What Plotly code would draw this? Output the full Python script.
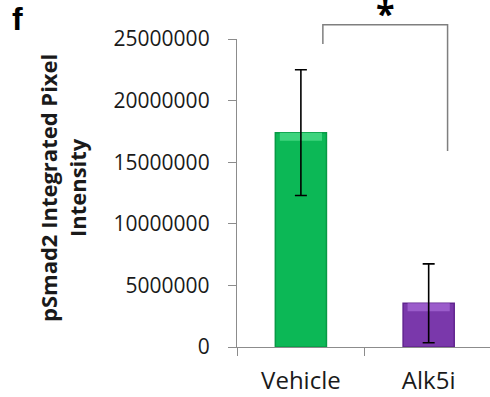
import plotly.graph_objects as go

# Data
categories = ["Vehicle", "Alk5i"]
means = [17400000, 3550000]
errors = [5100000, 3200000]
tick_vals = [0, 5000000, 10000000, 15000000, 20000000, 25000000]
tick_text = [str(v) for v in tick_vals]

# significance bracket (category-axis units, data units)
bracket_x = [0.172, 0.172, 1.148, 1.148]
bracket_y = [24600000, 26150000, 26150000, 15900000]
star_y = 27150000

bar_colors = ["#0cb856", "#7a38ab"]
edge_colors = ["#079a45", "#61248f"]
top_colors = ["#3fd47e", "#9b5ccb"]

FONT = "Open Sans"
TXT = "#1a1a1a"
AXC = "#8c8c8c"
X_RANGE = [-0.5, 1.48]
Y_RANGE = [0, 25000000]


def to_paper_x(v):
    return (v - X_RANGE[0]) / (X_RANGE[1] - X_RANGE[0])


def to_paper_y(v):
    return (v - Y_RANGE[0]) / (Y_RANGE[1] - Y_RANGE[0])


fig = go.Figure()

# main bars
fig.add_trace(go.Bar(
    x=categories, y=means, width=0.4,
    marker=dict(color=bar_colors, line=dict(color=edge_colors, width=1.5)),
    showlegend=False, hoverinfo="skip",
))

# lighter bevel band along the top of each bar
band = 650000
fig.add_trace(go.Bar(
    x=categories, y=[band] * len(means), base=[m - band for m in means],
    width=0.33,
    marker=dict(color=top_colors, line=dict(width=0)),
    showlegend=False, hoverinfo="skip",
))

# error bars drawn above the bevel band
fig.add_trace(go.Bar(
    x=categories, y=means, width=0.4,
    marker=dict(color="rgba(0,0,0,0)", line=dict(width=0)),
    error_y=dict(type="data", array=errors, visible=True,
                 color="black", thickness=1.6, width=6),
    showlegend=False, hoverinfo="skip",
))

# bracket as a path in paper coordinates so it can extend above the plot
path = "M " + " L ".join(
    f"{to_paper_x(x)},{to_paper_y(y)}" for x, y in zip(bracket_x, bracket_y))
fig.add_shape(type="path", path=path, xref="paper", yref="paper",
              line=dict(color="#7f7f7f", width=1.5))

star_x = (bracket_x[1] + bracket_x[2]) / 2
fig.add_annotation(x=to_paper_x(star_x), y=to_paper_y(star_y),
                   xref="paper", yref="paper", text="<b>*</b>",
                   xanchor="center", yanchor="middle",
                   showarrow=False, font=dict(family=FONT, size=34, color="black"))

# y-axis title
fig.add_annotation(x=(62 - 237) / 253, y=(347 - 188) / 308,
                   xref="paper", yref="paper",
                   text="<b>pSmad2 Integrated Pixel<br>Intensity</b>",
                   textangle=-90, showarrow=False,
                   xanchor="center", yanchor="middle",
                   font=dict(family=FONT, size=22, color=TXT))

# panel letter
fig.add_annotation(x=(17 - 237) / 253, y=(347 - 19) / 308,
                   xref="paper", yref="paper", text="<b>f</b>",
                   xanchor="center", yanchor="middle",
                   showarrow=False, font=dict(family="Liberation Sans", size=32, color="black"))

fig.update_layout(
    width=490, height=397,
    margin=dict(l=237, r=0, t=39, b=50),
    barmode="overlay",
    plot_bgcolor="white", paper_bgcolor="white",
    font=dict(family=FONT, color=TXT),
)

fig.update_xaxes(
    range=X_RANGE, showgrid=False, zeroline=False,
    showline=True, linecolor=AXC, linewidth=1.3,
    ticks="outside", tickson="boundaries", ticklen=8, tickcolor=AXC, tickwidth=1.3,
    tickfont=dict(family=FONT, size=24, color=TXT),
    ticklabelstandoff=12,
)
fig.update_yaxes(
    range=Y_RANGE, showgrid=False, zeroline=False,
    showline=True, linecolor=AXC, linewidth=1.3,
    ticks="outside", ticklen=8, tickcolor=AXC, tickwidth=1.3,
    tickvals=tick_vals, ticktext=tick_text,
    tickfont=dict(family=FONT, size=21, color=TXT),
    ticklabelstandoff=14,
)

fig.write_html("out.html")
